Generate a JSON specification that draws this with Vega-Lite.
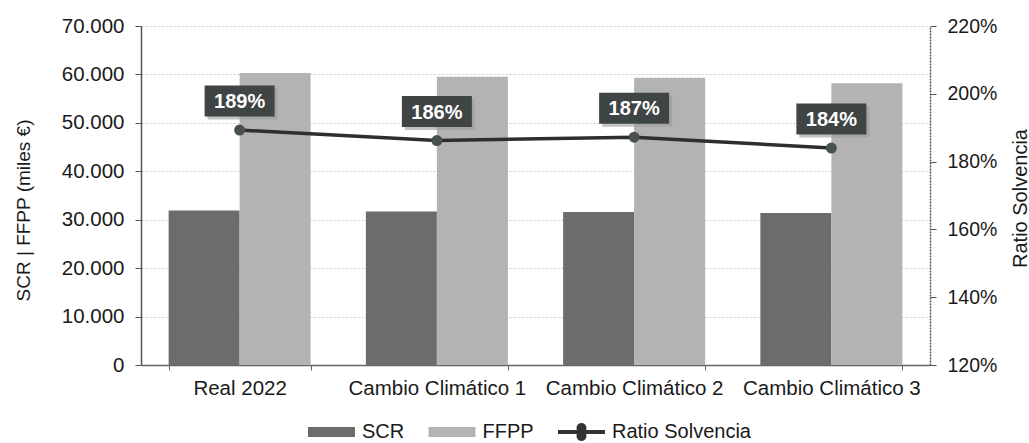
{
  "$schema": "https://vega.github.io/schema/vega-lite/v6.json",
  "autosize": {"type": "none"},
  "width": 789,
  "height": 339,
  "padding": {"left": 141, "top": 26, "right": 99, "bottom": 78},
  "background": "white",
  "config": {
    "view": {"stroke": null},
    "font": "Liberation Sans",
    "axis": {"labelFont": "Liberation Sans", "titleFont": "Liberation Sans", "labelColor": "#1a1a1a", "titleColor": "#1a1a1a", "titleFontWeight": "normal"}
  },
  "datasets": {
    "bars": [
      {"escenario": "Real 2022", "serie": "SCR", "valor": 31900},
      {"escenario": "Real 2022", "serie": "FFPP", "valor": 60300},
      {"escenario": "Cambio Climático 1", "serie": "SCR", "valor": 31700},
      {"escenario": "Cambio Climático 1", "serie": "FFPP", "valor": 59500},
      {"escenario": "Cambio Climático 2", "serie": "SCR", "valor": 31600},
      {"escenario": "Cambio Climático 2", "serie": "FFPP", "valor": 59300},
      {"escenario": "Cambio Climático 3", "serie": "SCR", "valor": 31400},
      {"escenario": "Cambio Climático 3", "serie": "FFPP", "valor": 58200}
    ],
    "ratio": [
      {"escenario": "Real 2022", "ratio": 1.893},
      {"escenario": "Cambio Climático 1", "ratio": 1.862},
      {"escenario": "Cambio Climático 2", "ratio": 1.872},
      {"escenario": "Cambio Climático 3", "ratio": 1.84}
    ]
  },
  "layer": [
    {
      "data": {"name": "bars"},
      "mark": {"type": "bar"},
      "encoding": {
        "x": {
          "field": "escenario", "type": "nominal", "sort": null,
          "scale": {"paddingInner": 0.28, "paddingOuter": 0.14},
          "axis": {"title": null, "labelAngle": 0, "labelFontSize": 20.5, "labelPadding": 8, "tickBand": "extent", "tickSize": 5, "tickColor": "#666", "domainColor": "#666", "domainWidth": 1.5}
        },
        "xOffset": {"field": "serie", "type": "nominal", "sort": ["SCR", "FFPP"], "scale": {"paddingInner": 0, "paddingOuter": 0}},
        "y": {
          "field": "valor", "type": "quantitative",
          "scale": {"domain": [0, 70000], "nice": false},
          "axis": {
            "title": "SCR | FFPP (miles €)", "titleFontSize": 19,
            "titleX": -118, "titleY": 184, "titleAngle": -90, "titleAlign": "center", "titleBaseline": "middle",
            "values": [0, 10000, 20000, 30000, 40000, 50000, 60000, 70000],
            "labelExpr": "replace(format(datum.value, ',d'), ',', '.')",
            "labelFontSize": 20.5, "labelPadding": 11, "tickSize": 6, "tickColor": "#555", "domainColor": "#555", "domainWidth": 1.5,
            "grid": true, "gridColor": "#c8c8c8", "gridDash": [2, 2], "gridWidth": 1
          }
        },
        "color": {
          "field": "serie", "type": "nominal",
          "scale": {"domain": ["SCR", "FFPP", "Ratio Solvencia"], "range": ["#6b6d6d", "#b3b3b3", "#333333"]},
          "legend": {
            "title": null, "orient": "none", "legendX": 180.5, "legendY": 396, "direction": "horizontal",
            "labelFontSize": 20, "labelFont": "Liberation Sans", "labelColor": "#1a1a1a", "labelOffset": 20.5,
            "symbolSize": 400, "columnPadding": 23.5, "symbolStrokeWidth": 0,
            "encode": {
              "symbols": {
                "update": {
                  "shape": [
                    {"test": "datum.value === 'Ratio Solvencia'", "value": "M-2.35,-0.2L-0.46,-0.2A0.5,0.5 0 1,1 0.46,-0.2L2.35,-0.2L2.35,0.2L0.46,0.2A0.5,0.5 0 1,1 -0.46,0.2L-2.35,0.2Z"},
                    {"value": "M-2.35,-0.5L2.35,-0.5L2.35,0.5L-2.35,0.5Z"}
                  ],
                  "strokeWidth": {"value": 0}
                }
              }
            }
          }
        }
      }
    },
    {
      "data": {"name": "ratio"},
      "layer": [
        {
          "mark": {"type": "line", "color": "#2e2e2e", "strokeWidth": 3.5},
          "encoding": {
            "x": {"field": "escenario", "type": "nominal", "sort": null},
            "y": {
              "field": "ratio", "type": "quantitative",
              "scale": {"domain": [1.2, 2.2], "nice": false},
              "axis": {
                "orient": "right", "title": "Ratio Solvencia", "titleFontSize": 20,
                "titleX": 90, "titleY": 172, "titleAngle": -90, "titleAlign": "center", "titleBaseline": "middle",
                "values": [1.2, 1.4, 1.6, 1.8, 2.0, 2.2], "format": ".0%",
                "labelFontSize": 19.5, "labelPadding": 11, "tickSize": 6, "tickColor": "#555", "domainColor": "#555", "domainDash": [2, 1], "domainWidth": 1.5, "grid": false
              }
            }
          }
        },
        {
          "mark": {"type": "point", "filled": true, "color": "#485050", "size": 120, "opacity": 1},
          "encoding": {
            "x": {"field": "escenario", "type": "nominal", "sort": null},
            "y": {"field": "ratio", "type": "quantitative"}
          }
        },
        {
          "mark": {"type": "point", "filled": true, "color": "#9a9a9a", "opacity": 0.6, "size": 4900, "xOffset": 3, "yOffset": -26, "shape": "M-1,-0.443L1,-0.443L1,0.443L-1,0.443Z"},
          "encoding": {
            "x": {"field": "escenario", "type": "nominal", "sort": null},
            "y": {"field": "ratio", "type": "quantitative"}
          }
        },
        {
          "mark": {"type": "point", "filled": true, "color": "#3f4444", "opacity": 1, "size": 4900, "yOffset": -29, "shape": "M-1,-0.443L1,-0.443L1,0.443L-1,0.443Z"},
          "encoding": {
            "x": {"field": "escenario", "type": "nominal", "sort": null},
            "y": {"field": "ratio", "type": "quantitative"}
          }
        },
        {
          "mark": {"type": "text", "color": "white", "fontWeight": "bold", "fontSize": 20, "font": "Liberation Sans", "yOffset": -28, "baseline": "middle", "align": "center"},
          "encoding": {
            "x": {"field": "escenario", "type": "nominal", "sort": null},
            "y": {"field": "ratio", "type": "quantitative"},
            "text": {"field": "ratio", "type": "quantitative", "format": ".0%"}
          }
        }
      ]
    }
  ],
  "resolve": {"scale": {"y": "independent"}}
}
